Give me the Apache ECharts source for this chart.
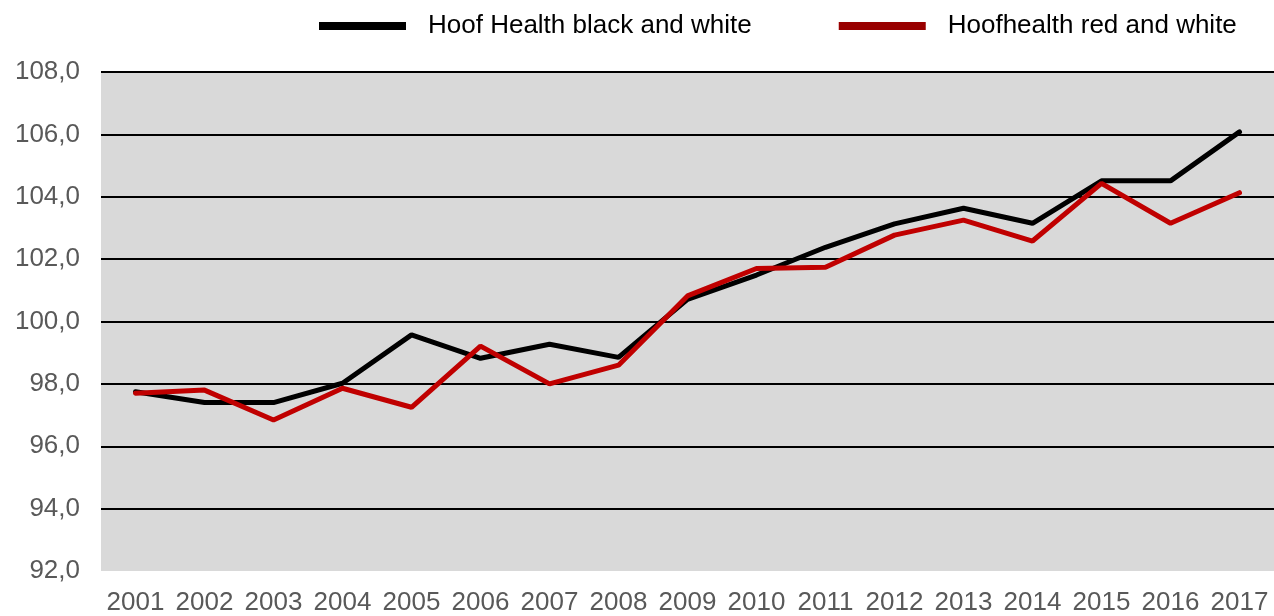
<!DOCTYPE html>
<html>
<head>
<meta charset="utf-8">
<script src="https://cdn.jsdelivr.net/npm/echarts@6/dist/echarts.min.js"></script>
<style>
  html, body { margin: 0; padding: 0; background: #fff; }
  #chart { width: 1274px; height: 616px; }
</style>
</head>
<body>
<div id="chart"></div>
<script>
// years on the x axis
const years = ['2001', '2002', '2003', '2004', '2005', '2006', '2007', '2008', '2009',
  '2010', '2011', '2012', '2013', '2014', '2015', '2016', '2017']

// black and white breed
const blackWhite = [97.75, 97.4, 97.4, 98.02, 99.57, 98.82, 99.27, 98.85, 100.71,
  101.49, 102.38, 103.13, 103.63, 103.15, 104.51, 104.51, 106.08]

// red and white breed
const redWhite = [97.7, 97.8, 96.84, 97.86, 97.25, 99.21, 98.0, 98.6, 100.82,
  101.7, 101.74, 102.77, 103.25, 102.58, 104.43, 103.15, 104.13]

const seriesNames = ['Hoof Health black and white', 'Hoofhealth red and white']

const font = 'Liberation Sans, Arial, sans-serif'
const chart = echarts.init(document.getElementById('chart'))

chart.setOption({
  animation: false,
  textStyle: { fontFamily: font },
  legend: {
    left: 314,
    top: 8,
    icon: 'rect',
    itemWidth: 87,
    itemHeight: 8,
    itemGap: 87,
    data: [
      { name: seriesNames[0], itemStyle: { color: '#000000' } },
      { name: seriesNames[1], itemStyle: { color: '#990000' } },
    ],
    textStyle: { fontSize: 26, color: '#000', fontFamily: font, padding: [0, 0, 0, 17] },
  },
  grid: {
    left: 101,
    right: -4,
    top: 72,
    bottom: 45,
    show: true,
    backgroundColor: '#d9d9d9',
    borderWidth: 0,
  },
  xAxis: {
    type: 'category',
    data: years,
    boundaryGap: true,
    axisLine: { show: false },
    axisTick: { show: false },
    axisLabel: { fontSize: 26, color: '#595959', margin: 19, interval: 0, fontFamily: font },
  },
  yAxis: {
    type: 'value',
    min: 92,
    max: 108,
    interval: 2,
    axisLine: { show: false },
    axisTick: { show: false },
    axisLabel: {
      fontSize: 26,
      color: '#595959',
      margin: 21,
      fontFamily: font,
      formatter: (v) => v.toFixed(1).replace('.', ','),
    },
    // no line at the bottom (92)
    splitLine: {
      show: true,
      lineStyle: {
        width: 2,
        color: ['rgba(0,0,0,0)', '#000', '#000', '#000', '#000', '#000', '#000', '#000', '#000'],
      },
    },
  },
  series: [
    {
      name: seriesNames[0],
      type: 'line',
      data: blackWhite,
      showSymbol: false,
      lineStyle: { color: '#000000', width: 5, cap: 'round' },
      itemStyle: { color: '#000000' },
    },
    {
      name: seriesNames[1],
      type: 'line',
      data: redWhite,
      showSymbol: false,
      lineStyle: { color: '#c00000', width: 5, cap: 'round' },
      itemStyle: { color: '#c00000' },
    },
  ],
})
</script>
</body>
</html>
